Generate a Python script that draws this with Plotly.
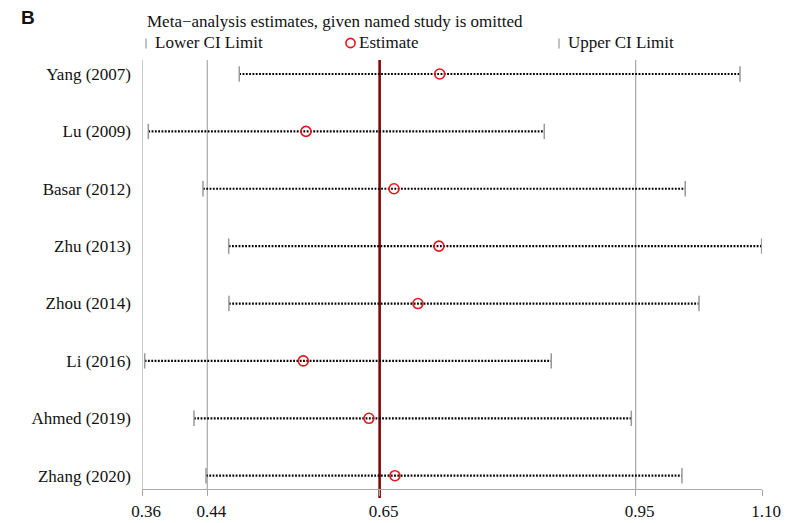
import plotly.graph_objects as go

# Influence analysis: pooled estimate with each study left out in turn
studies = ["Yang (2007)", "Lu (2009)", "Basar (2012)", "Zhu (2013)",
           "Zhou (2014)", "Li (2016)", "Ahmed (2019)", "Zhang (2020)"]
lower_ci = [0.4781, 0.3698, 0.4349, 0.4655, 0.4658, 0.3655, 0.4242, 0.4385]
estimate = [0.7167, 0.5575, 0.6623, 0.7158, 0.6908, 0.5543, 0.6325, 0.6634]
upper_ci = [1.0742, 0.8412, 1.0090, 1.1000, 1.0254, 0.8495, 0.9448, 1.0051]

# Overall pooled estimate and its confidence limits
overall_lower = 0.4400
overall_est = 0.6452
overall_upper = 0.9500

# Axis extent and labelled reference points
axis_min = 0.3623
axis_max = 1.1004
tick_vals = [axis_min, overall_lower, overall_est, overall_upper, axis_max]
tick_text = ["0.36", "0.44", "0.65", "0.95", "1.10"]

SERIF = "Liberation Serif, Times New Roman, serif"
GRAY = "#a8a8a8"
RED = "#e8141b"

# plot area geometry (pixels) used for paper-coordinate annotations
W, H = 794, 523
ML, MR, MT, MB = 142, 32, 60, 34
PW, PH = W - ML - MR, H - MT - MB


def px_x(px):
    return (px - ML) / PW


def px_y(py):
    return (H - MB - py) / PH


fig = go.Figure()

# dotted CI spans
for s, lo, hi in zip(studies, lower_ci, upper_ci):
    fig.add_trace(go.Scatter(
        x=[lo, hi], y=[s, s], mode="lines",
        line=dict(color="#000000", width=2.2, dash="1.8px,1.5px"),
        hoverinfo="skip", showlegend=False))

# lower and upper CI caps
fig.add_trace(go.Scatter(
    x=lower_ci + upper_ci, y=studies + studies, mode="markers",
    marker=dict(symbol="line-ns-open", size=11, color="#999999",
                line=dict(color="#999999", width=1.5)),
    showlegend=False))

# estimates
fig.add_trace(go.Scatter(
    x=estimate, y=studies, mode="markers",
    marker=dict(symbol="circle-open", size=10, color=RED,
                line=dict(color=RED, width=1.6)),
    showlegend=False))

shapes = []
for v in [axis_min, overall_lower, overall_upper]:
    shapes.append(dict(type="line", xref="x", yref="paper", x0=v, x1=v,
                       y0=0, y1=1, line=dict(color=GRAY, width=1.2),
                       layer="below"))
shapes.append(dict(type="line", xref="x", yref="paper",
                   x0=overall_est, x1=overall_est,
                   y0=-9 / PH, y1=1, line=dict(color="#7d0a0a", width=2.6),
                   layer="below"))

# legend key marks
for bx in (146, 559):
    shapes.append(dict(type="line", xref="paper", yref="paper",
                       x0=px_x(bx), x1=px_x(bx),
                       y0=px_y(48.5), y1=px_y(38.5),
                       line=dict(color="#999999", width=1.2)))
r = 4.6
shapes.append(dict(type="circle", xref="paper", yref="paper",
                   x0=px_x(350.5 - r), x1=px_x(350.5 + r),
                   y0=px_y(43 + r), y1=px_y(43 - r),
                   line=dict(color=RED, width=1.6)))

annotations = [
    dict(text="Meta\u2212analysis estimates, given named study is omitted",
         x=px_x(146), y=px_y(21.5)),
    dict(text="Lower CI Limit", x=px_x(153.5), y=px_y(43)),
    dict(text="Estimate", x=px_x(358), y=px_y(43)),
    dict(text="Upper CI Limit", x=px_x(567), y=px_y(43)),
]
for a in annotations:
    a.update(xref="paper", yref="paper", xanchor="left", yanchor="middle",
             showarrow=False, borderpad=0,
             font=dict(family=SERIF, size=17, color="#111111"))
annotations.append(dict(
    text="<b>B</b>", x=px_x(19.5), y=px_y(17.5), xref="paper", yref="paper",
    xanchor="left", yanchor="middle", showarrow=False, borderpad=0,
    font=dict(family="Liberation Sans, Arial, sans-serif", size=19,
              color="#111111")))

fig.update_layout(
    width=W, height=H,
    margin=dict(l=ML, r=MR, t=MT, b=MB, autoexpand=False),
    paper_bgcolor="white", plot_bgcolor="white",
    shapes=shapes, annotations=annotations,
    xaxis=dict(range=[axis_min, axis_max], tickvals=tick_vals,
               ticktext=tick_text, showgrid=False, zeroline=False,
               automargin=False,
               showline=True, linecolor=GRAY, linewidth=1.2,
               ticks="outside", ticklen=6, tickcolor=GRAY, tickwidth=1.2,
               ticklabelshift=4,
               tickfont=dict(family=SERIF, size=17, color="#111111")),
    yaxis=dict(type="category", categoryorder="array",
               categoryarray=studies, range=[7.232, -0.244],
               showgrid=False, zeroline=False, showline=False,
               automargin=False,
               ticks="", ticklabelstandoff=10,
               tickfont=dict(family=SERIF, size=17, color="#111111")),
)

fig.write_html("out.html")
